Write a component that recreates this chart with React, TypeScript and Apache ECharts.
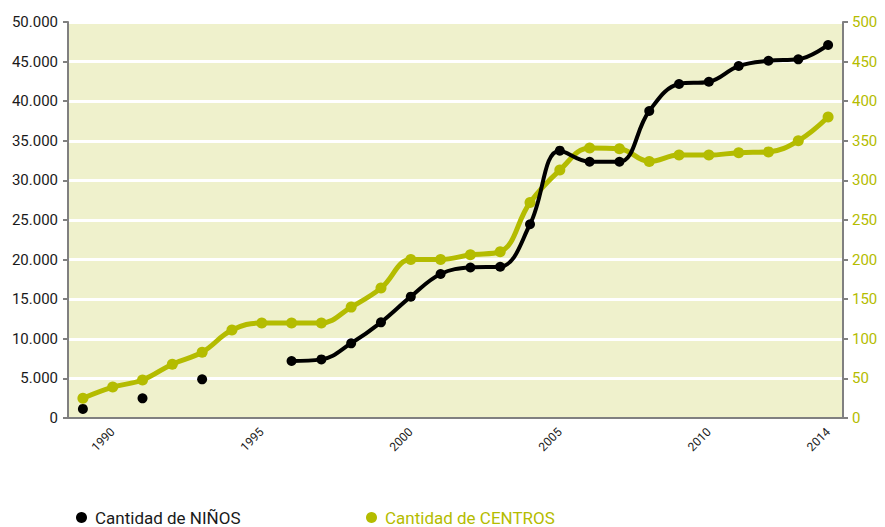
import React, { useEffect, useRef } from "react";
import * as echarts from "echarts";

const years = [
  "1989", "1990", "1991", "1992", "1993", "1994", "1995", "1996", "1997", "1998",
  "1999", "2000", "2001", "2002", "2003", "2004", "2005", "2006", "2007", "2008",
  "2009", "2010", "2011", "2012", "2013", "2014",
];
const shownYears = ["1990", "1995", "2000", "2005", "2010", "2014"];

const ninos = [
  1150, null, 2480, null, 4880, null, null, 7200, 7400, 9430,
  12080, 15320, 18180, 19000, 19100, 24460, 33750, 32360, 32360, 38760,
  42170, 42460, 44440, 45110, 45290, 47100,
];
const centros = [
  25, 39, 48, 68, 83, 111, 120, 120, 120, 140,
  164, 200, 200, 206, 210, 272, 313, 341, 340, 324,
  332, 332, 335, 336, 350, 380,
];

const leftTicks = { min: 0, max: 50000, interval: 5000 };
const rightTicks = { min: 0, max: 500, interval: 50 };

const GREEN = "#b4bc00";
const FONT = "Roboto, 'Liberation Sans', sans-serif";

function fmtThousands(v: number): string {
  if (v === 0) return "0";
  const s = String(Math.round(v));
  return s.replace(/\B(?=(\d{3})+(?!\d))/g, ".");
}

export default function App() {
  const ref = useRef<HTMLDivElement>(null);
  useEffect(() => {
    if (!ref.current) return;
    const chart = echarts.init(ref.current, null, { renderer: "svg" });
    chart.setOption({
      animation: false,
      textStyle: { fontFamily: FONT },
      grid: {
        left: 68,
        right: 42,
        top: 22,
        bottom: 109,
        show: true,
        backgroundColor: "#eff1cc",
        borderWidth: 0,
        containLabel: false,
      },
      legend: [
        {
          left: 76,
          top: 509,
          padding: 0,
          icon: "circle",
          itemWidth: 11,
          itemHeight: 11,
          itemGap: 9,
          data: [{ name: "Cantidad de NIÑOS", textStyle: { color: "#1a1a1a" } }],
          textStyle: { fontSize: 17, fontFamily: FONT, padding: [0, 0, 0, 3] },
        },
        {
          left: 366,
          top: 509,
          padding: 0,
          icon: "circle",
          itemWidth: 11,
          itemHeight: 11,
          data: [{ name: "Cantidad de CENTROS", textStyle: { color: GREEN } }],
          textStyle: { fontSize: 17, fontFamily: FONT, padding: [0, 0, 0, 3] },
        },
      ],
      xAxis: {
        type: "category",
        data: years,
        boundaryGap: true,
        axisLine: { lineStyle: { color: "#808080", width: 2 } },
        axisTick: { interval: 0, length: 5, lineStyle: { color: "#808080", width: 2 } },
        axisLabel: {
          rotate: 45,
          fontSize: 12,
          color: "#1a1a1a",
          margin: 12,
          interval: (_i: number, v: string) => shownYears.includes(v),
        },
        splitLine: { show: false },
      },
      yAxis: [
        {
          type: "value",
          position: "left",
          min: leftTicks.min,
          max: leftTicks.max,
          interval: leftTicks.interval,
          axisLine: { show: true, lineStyle: { color: "#808080", width: 2 } },
          axisTick: { show: true, length: 5, lineStyle: { color: "#808080", width: 2 } },
          axisLabel: {
            fontSize: 15,
            color: "#1a1a1a",
            margin: 10,
            formatter: (v: number) => fmtThousands(v),
          },
          splitLine: { show: true, lineStyle: { color: "#ffffff", width: 3 } },
        },
        {
          type: "value",
          position: "right",
          min: rightTicks.min,
          max: rightTicks.max,
          interval: rightTicks.interval,
          axisLine: { show: true, lineStyle: { color: "#808080", width: 2 } },
          axisTick: { show: true, length: 5, lineStyle: { color: "#808080", width: 2 } },
          axisLabel: { fontSize: 15, color: GREEN, margin: 9 },
          splitLine: { show: false },
        },
      ],
      series: [
        {
          name: "Cantidad de CENTROS",
          type: "line",
          yAxisIndex: 1,
          data: centros,
          smooth: 0.4,
          symbol: "circle",
          symbolSize: 11,
          showSymbol: true,
          itemStyle: { color: GREEN },
          lineStyle: { color: GREEN, width: 5 },
          z: 2,
        },
        {
          name: "Cantidad de NIÑOS",
          type: "line",
          yAxisIndex: 0,
          data: ninos,
          smooth: 0.4,
          connectNulls: false,
          symbol: "circle",
          symbolSize: 10,
          showSymbol: true,
          itemStyle: { color: "#000000" },
          lineStyle: { color: "#000000", width: 4 },
          z: 3,
        },
      ],
    });
    return () => chart.dispose();
  }, []);
  return <div ref={ref} style={{ width: 885, height: 527, position: "absolute", left: 0, top: 0 }} />;
}
